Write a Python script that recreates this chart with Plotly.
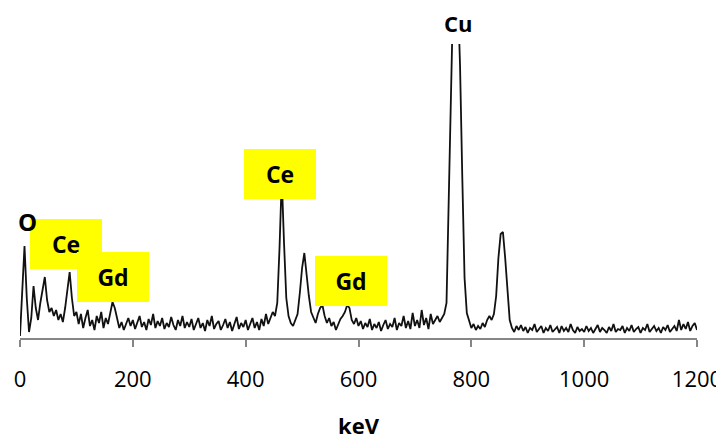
import plotly.graph_objects as go

# Energy grid (keV), 4 keV spacing
energy_start = 0
energy_step = 4

# Counts (arbitrary units), one value per 4 keV
counts_0_96 = [2, 45, 92, 40, 6, 20, 52, 30, 18, 35, 50, 61, 38, 26, 30, 22, 28, 18, 24, 16, 30, 48, 66, 40, 22]
counts_100_196 = [26, 14, 24, 10, 20, 28, 12, 18, 8, 22, 15, 26, 10, 20, 14, 24, 36, 30, 18, 10, 16, 8, 14, 20, 12]
counts_200_296 = [18, 9, 15, 22, 11, 16, 8, 19, 13, 24, 10, 17, 12, 20, 9, 15, 11, 21, 13, 8, 18, 12, 22, 10, 16]
counts_300_396 = [11, 19, 8, 14, 20, 10, 15, 7, 18, 12, 22, 9, 14, 17, 8, 13, 19, 10, 16, 7, 14, 21, 9, 15, 11]
counts_400_496 = [18, 8, 14, 20, 10, 16, 8, 19, 12, 24, 14, 20, 26, 22, 35, 90, 160, 95, 40, 22, 15, 12, 18, 24, 45]
counts_500_596 = [70, 85, 62, 42, 26, 20, 15, 24, 30, 33, 22, 15, 20, 12, 16, 8, 14, 19, 22, 26, 33, 30, 18, 14, 20]
counts_600_696 = [12, 17, 9, 15, 11, 19, 8, 14, 10, 16, 7, 13, 18, 9, 14, 11, 20, 8, 15, 12, 22, 10, 17, 9, 25]
counts_700_796 = [12, 18, 10, 28, 13, 20, 9, 24, 14, 18, 22, 16, 20, 24, 35, 138, 262, 350, 420, 340, 272, 160, 60, 25, 16]
counts_800_896 = [10, 14, 8, 12, 9, 15, 11, 18, 22, 18, 24, 42, 80, 104, 106, 80, 45, 18, 10, 6, 12, 8, 13, 7, 11]
counts_900_996 = [5, 10, 8, 14, 6, 9, 12, 5, 10, 7, 13, 6, 9, 11, 5, 12, 7, 10, 6, 14, 8, 5, 11, 7, 9]
counts_1000_1096 = [6, 12, 7, 10, 5, 9, 13, 6, 10, 8, 5, 11, 7, 14, 6, 9, 8, 12, 5, 10, 7, 13, 6, 9, 11]
counts_1100_1200 = [5, 10, 8, 14, 6, 9, 12, 7, 10, 5, 11, 8, 13, 6, 9, 12, 7, 18, 8, 14, 9, 16, 7, 12, 15, 8]

counts = (counts_0_96 + counts_100_196 + counts_200_296 + counts_300_396 + counts_400_496
          + counts_500_596 + counts_600_696 + counts_700_796 + counts_800_896
          + counts_900_996 + counts_1000_1096 + counts_1100_1200)
energy = [energy_start + i * energy_step for i in range(len(counts))]

tick_values = [0, 200, 400, 600, 800, 1000, 1200]
tick_labels = ["0", "200", "400", "600", "800", "1000", "1200"]

# Element labels: (text, keV, y)
boxed_labels = [
    ("Ce", 81.5, 94),
    ("Gd", 165.7, 61),
    ("Ce", 460.8, 164.5),
    ("Gd", 586.7, 57.5),
]
plain_labels = [("O", 14, 116.5)]
cu_label = ("Cu", 776.3)

fig = go.Figure()
fig.add_trace(go.Scatter(x=energy, y=counts, mode="lines",
                         line=dict(color="#111111", width=1.8), showlegend=False,
                         hoverinfo="skip"))

font_family = "Open Sans, Arial, sans-serif"
annotations = []
for text, xv, yv in boxed_labels:
    annotations.append(dict(x=xv, y=yv, xref="x", yref="y", text="<b>" + text + "</b>",
                            showarrow=False, bgcolor="#FFFF00", width=72, height=50,
                            borderpad=0, borderwidth=0, align="center", valign="middle",
                            xanchor="center", yanchor="middle",
                            font=dict(family=font_family, size=23, color="#000000")))
for text, xv, yv in plain_labels:
    annotations.append(dict(x=xv, y=yv, xref="x", yref="y", text="<b>" + text + "</b>",
                            showarrow=False, xanchor="center", yanchor="middle",
                            font=dict(family=font_family, size=24, color="#000000")))
annotations.append(dict(x=cu_label[1], y=(294 + 21) / 294, xref="x", yref="paper",
                        text="<b>" + cu_label[0] + "</b>", showarrow=False,
                        xanchor="center", yanchor="middle",
                        font=dict(family=font_family, size=22, color="#000000")))
annotations.append(dict(x=0.5, y=-87 / 294, xref="paper", yref="paper", text="<b>keV</b>",
                        showarrow=False, xanchor="center", yanchor="middle",
                        font=dict(family=font_family, size=22, color="#000000")))

# The page body adds an 8 px offset, so the figure is 8 px smaller on each side
fig.update_layout(
    width=716, height=431,
    margin=dict(l=12, r=27, t=36, b=101, autoexpand=False),
    paper_bgcolor="white", plot_bgcolor="white",
    annotations=annotations,
    xaxis=dict(range=[0, 1200], tickmode="array", tickvals=tick_values, ticktext=tick_labels,
               ticks="outside", ticklen=7, tickwidth=1.5, tickcolor="#868686",
               showline=True, linecolor="#868686", linewidth=2, showgrid=False, zeroline=False,
               automargin=False, ticklabelstandoff=14,
               tickfont=dict(family=font_family, size=22, color="#000000")),
    yaxis=dict(range=[0, 294], visible=False, showgrid=False, zeroline=False, automargin=False),
)

fig.write_html("out.html")
